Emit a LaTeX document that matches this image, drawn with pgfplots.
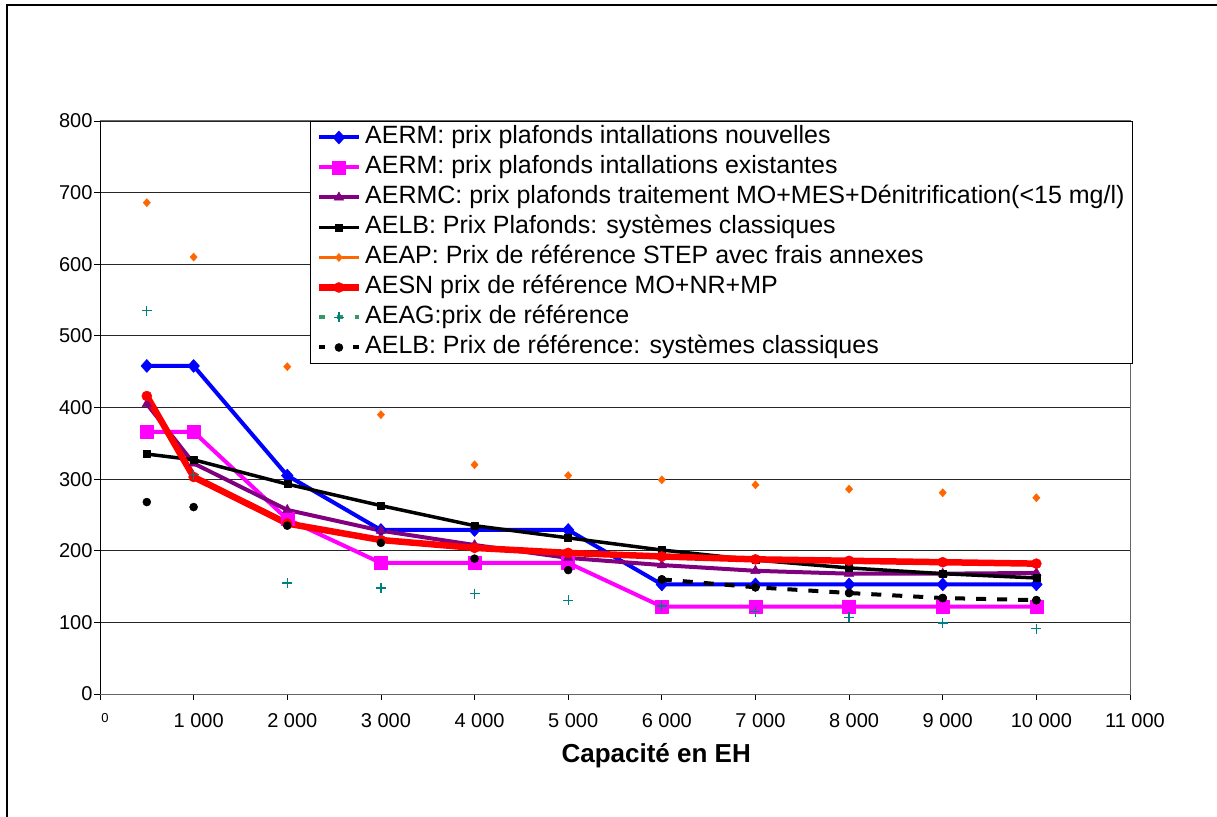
\documentclass[border=0pt]{standalone}
\usepackage{pgfplots}
\pgfplotsset{compat=1.18}
\usepackage{fontspec}
\setmainfont{Liberation Sans}
\definecolor{aeblue}{RGB}{0,0,255}
\definecolor{aemag}{RGB}{255,0,255}
\definecolor{aepurple}{RGB}{128,0,128}
\definecolor{aeorange}{RGB}{255,102,0}
\definecolor{aeteal}{RGB}{0,128,128}
\definecolor{aesea}{RGB}{51,153,102}

\pgfplotstableread{
x     nouv exist aermc aelbp aeap aesn aeag aelbr
500   458  366   405   335   686  416  535  268
1000  458  366   322   327   610  303  306  261
2000  305  244   257   293   457  238  155  235
3000  229  183   228   263   390  215  148  211
4000  229  183   208   235   320  204  140  189
5000  229  183   190   218   305  197  131  173
6000  153  122   180   201   299  192  123  160
7000  153  122   172   187   292  188  115  149
8000  153  122   168   176   286  186  107  141
9000  153  122   168   168   281  184   99  134
10000 153  122   169   162   274  182   91  131
}\data

\begin{document}
\begin{tikzpicture}[x=1pt,y=1pt]
\useasboundingbox (0,0) rectangle (1217,816);
\draw[line width=2.5pt] (7,-5) -- (7,811) -- (1225,811);
\begin{axis}[
  at={(100pt,122pt)}, anchor=south west,
  scale only axis, width=1030pt, height=573pt,
  xmin=0, xmax=11000, ymin=0, ymax=800,
  scaled x ticks=false, scaled y ticks=false,
  xtick={0,1000,2000,3000,4000,5000,6000,7000,8000,9000,10000,11000},
  xticklabels={{\fontsize{13}{13}\selectfont 0},1 000,2 000,3 000,4 000,5 000,6 000,7 000,8 000,9 000,10 000,11 000},
  ytick={0,100,...,800},
  xtick pos=bottom, ytick pos=left,
  tick align=outside, major tick length=6pt,
  tick style={black, line width=0.8pt},
  xticklabel style={font=\fontsize{20}{20}\selectfont, yshift=-10pt, xshift=5pt},
  yticklabel style={font=\fontsize{20}{20}\selectfont, xshift=2pt},
  /pgf/number format/assume math mode=true,
  ymajorgrids, major grid style={black!85, line width=0.9pt},
  axis line style={gray!80!black, line width=1pt},
  xlabel={Capacité en EH},
  xlabel style={font=\bfseries\fontsize{26}{26}\selectfont, at={(axis description cs:0.54,-0.108)}, anchor=center},
  legend style={at={(rel axis cs:1.0029,1)}, anchor=north east, draw=black, line width=1pt, fill=white,
    font=\fontsize{25}{30}\selectfont, cells={anchor=west}, inner xsep=5pt, inner ysep=1pt, row sep=0pt,
    nodes={inner xsep=3pt, inner ysep=2.5pt, text height=19pt, text depth=6pt}},
  legend image code/.code={\draw[mark repeat=2,mark phase=2,#1] plot coordinates {(0pt,0pt) (20pt,0pt) (40pt,0pt)};},
]
% legend images
\addlegendimage{aeblue, line width=4pt, mark=diamond*, mark size=6.5pt, mark options={solid, xscale=1.2, line width=0.5pt}}
\addlegendentry{AERM: prix plafonds intallations nouvelles}
\addlegendimage{aemag, line width=4pt, mark=square*, mark size=6.5pt, mark options={solid, line width=0.5pt}}
\addlegendentry{AERM: prix plafonds intallations existantes}
\addlegendimage{aepurple, line width=4pt, mark=triangle*, mark size=5.5pt, mark options={solid, line width=0.5pt}}
\addlegendentry{AERMC: prix plafonds traitement MO+MES+Dénitrification(<15 mg/l)}
\addlegendimage{black, line width=3.5pt, mark=square*, mark size=3.5pt, mark options={solid, line width=0.5pt}}
\addlegendentry{AELB: Prix Plafonds: systèmes classiques}
\addlegendimage{aeorange, line width=3.5pt, dash pattern=on 17pt off 6pt, mark=diamond*, mark size=4pt, mark options={solid, xscale=1.2, line width=0.5pt}}
\addlegendentry{AEAP: Prix de référence STEP avec frais annexes}
\addlegendimage{red, line width=6.5pt, mark=*, mark size=5pt, mark options={solid, line width=0.5pt}}
\addlegendentry{AESN prix de référence MO+NR+MP}
\addlegendimage{aesea, line width=4pt, dash pattern=on 6pt off 12pt, mark=+, mark size=5pt, mark options={solid, aeteal, line width=1.2pt}}
\addlegendentry{AEAG:prix de référence}
\addlegendimage{black, line width=4pt, dash pattern=on 6pt off 11pt, mark=*, mark size=4pt, mark options={solid, line width=0.5pt}}
\addlegendentry{AELB: Prix de référence: systèmes classiques}

% data
\addplot[forget plot, aeblue, line width=4pt, line join=round, mark=diamond*, mark size=6.5pt, mark options={solid, xscale=1.2, line width=0.5pt}] table[x=x, y=nouv] {\data};
\addplot[forget plot, aemag, line width=4pt, line join=round, mark=square*, mark size=6.5pt, mark options={solid, line width=0.5pt}] table[x=x, y=exist] {\data};
\addplot[forget plot, aepurple, line width=4pt, line join=round, mark=triangle*, mark size=5.5pt, mark options={solid, line width=0.5pt}] table[x=x, y=aermc] {\data};
\addplot[forget plot, black, line width=3.5pt, line join=round, mark=square*, mark size=3.5pt, mark options={solid, line width=0.5pt}] table[x=x, y=aelbp] {\data};
\addplot[forget plot, only marks, aeorange, mark=diamond*, mark size=4pt, mark options={solid, xscale=1.2, line width=0.5pt}] table[x=x, y=aeap] {\data};
\addplot[forget plot, red, line width=6.5pt, line join=round, mark=*, mark size=5pt, mark options={solid, line width=0.5pt}] table[x=x, y=aesn] {\data};
\addplot[forget plot, only marks, aeteal, mark=+, mark size=5pt, mark options={solid, line width=1.2pt}] table[x=x, y=aeag] {\data};
\addplot[forget plot, only marks, black, mark=*, mark size=4pt, mark options={solid, line width=0.5pt}] table[x=x, y=aelbr] {\data};
\addplot[forget plot, black, line width=4pt, dash pattern=on 10pt off 11pt, mark=*, mark size=4pt, mark options={solid, line width=0.5pt}] table[x=x, y=aelbr, skip coords between index={0}{6}] {\data};
\draw[black, line width=1pt] (rel axis cs:0,0) -- (rel axis cs:0,1);
\end{axis}
\end{tikzpicture}
\end{document}
